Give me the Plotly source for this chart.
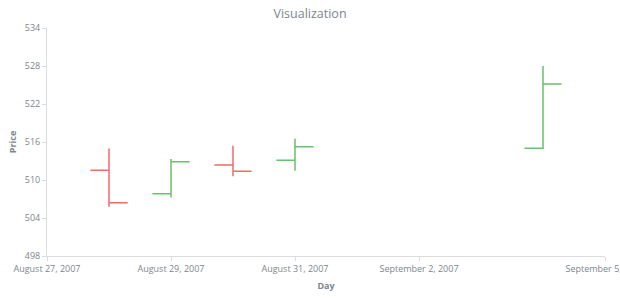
import plotly.graph_objects as go

dates = ["2007-08-28", "2007-08-29", "2007-08-30", "2007-08-31", "2007-09-04"]
open_ = [511.53, 507.84, 512.36, 513.10, 515.02]
high = [514.98, 513.30, 515.40, 516.50, 528.00]
low = [505.79, 507.23, 510.58, 511.47, 514.88]
close = [506.40, 512.88, 511.40, 515.25, 525.15]

x_tickvals = ["2007-08-27", "2007-08-29", "2007-08-31", "2007-09-02", "2007-09-05"]
x_ticktext = ["August 27, 2007", "August 29, 2007", "August 31, 2007",
              "September 2, 2007", "September 5, 2007"]
y_tickvals = [498, 504, 510, 516, 522, 528, 534]

font_color = "#7c868e"
axis_color = "#d9dde0"

fig = go.Figure(go.Ohlc(
    x=dates, open=open_, high=high, low=low, close=close,
    increasing=dict(line=dict(color="#6cbf6c", width=1.5)),
    decreasing=dict(line=dict(color="#f26b6b", width=1.5)),
    showlegend=False,
))

fig.update_layout(
    width=620, height=300,
    margin=dict(l=47, r=15, t=28, b=44),
    paper_bgcolor="white", plot_bgcolor="white",
    font=dict(family="Open Sans, sans-serif", size=9, color=font_color),
    title=dict(text="Visualization", x=0.5, xanchor="center",
               yref="container", y=1 - 14 / 300, yanchor="middle",
               font=dict(size=12.5, color=font_color)),
    xaxis=dict(
        range=["2007-08-27", "2007-09-05"],
        tickvals=x_tickvals, ticktext=x_ticktext,
        showgrid=False, zeroline=False,
        showline=True, linecolor=axis_color, linewidth=1,
        ticks="outside", ticklen=4, tickcolor=axis_color,
        ticklabeloverflow="allow", automargin=False,
        rangeslider=dict(visible=False),
        title=dict(text="<b>Day</b>", font=dict(size=9, color=font_color), standoff=8),
    ),
    yaxis=dict(
        range=[498, 534],
        tickvals=y_tickvals,
        showgrid=False, zeroline=False,
        showline=True, linecolor=axis_color, linewidth=1,
        ticks="outside", ticklen=4, tickcolor=axis_color,
        automargin=False,
        title=dict(text="<b>Price</b>", font=dict(size=9, color=font_color), standoff=6),
    ),
)

fig.write_html("out.html")
